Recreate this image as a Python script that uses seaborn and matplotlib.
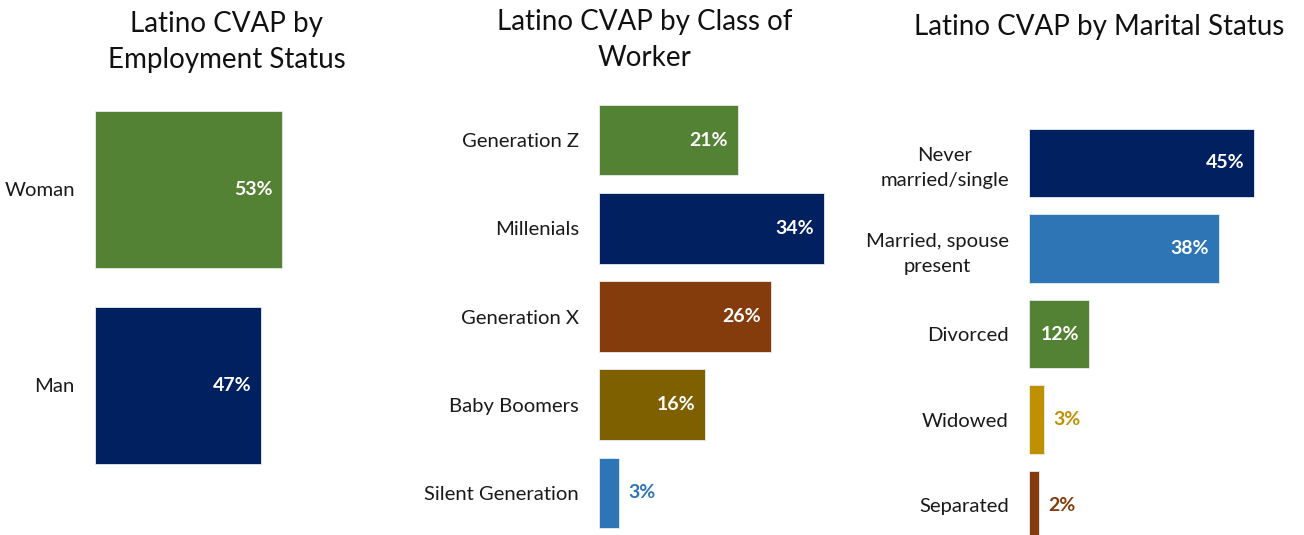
import matplotlib

matplotlib.use("Agg")
import matplotlib.pyplot as plt
import pandas as pd
import seaborn as sns

# --- data ---
emp_labels = ["Woman", "Man"]
emp_values = [53, 47]
emp_colors = ["#548235", "#002060"]

gen_labels = ["Generation Z", "Millenials", "Generation X", "Baby Boomers", "Silent Generation"]
gen_values = [21, 34, 26, 16, 3]
gen_colors = ["#548235", "#002060", "#843C0C", "#7F6000", "#2E75B6"]

mar_labels = ["Never\nmarried/single", "Married, spouse\npresent", "Divorced", "Widowed", "Separated"]
mar_values = [45, 38, 12, 3, 2]
mar_colors = ["#002060", "#2E75B6", "#548235", "#BF9000", "#843C0C"]

titles = ["Latino CVAP by\nEmployment Status", "Latino CVAP by Class of\nWorker",
          "Latino CVAP by Marital Status"]

sns.set_theme(style="white")
plt.rcParams["font.family"] = ["Lato", "DejaVu Sans"]

W, H = 1304, 535
fig = plt.figure(figsize=(W / 100, H / 100), dpi=100)


def px_axes(x0, top, bottom, width):
    # axes placed in pixel coordinates of the reference
    return fig.add_axes([x0 / W, (H - bottom) / H, width / W, (bottom - top) / H])


def panel(ax, labels, values, colors, xmax):
    df = pd.DataFrame({"cat": labels, "val": values})
    sns.barplot(data=df, x="val", y="cat", hue="cat", palette=dict(zip(labels, colors)),
                orient="h", width=0.8, legend=False, ax=ax, saturation=1,
                edgecolor="#e8ecef", linewidth=0.6)
    ax.set_xlim(0, xmax)
    ax.set_xlabel("")
    ax.set_ylabel("")
    ax.set_xticks([])
    sns.despine(ax=ax, left=True, bottom=True)
    ax.tick_params(axis="y", length=0, pad=14.5, labelsize=14.6, labelcolor="#1a1a1a")
    for t in ax.get_yticklabels():
        t.set_multialignment("center")
        t.set_linespacing(1.55)
    for patch, v, c in zip(ax.patches, values, colors):
        y = patch.get_y() + patch.get_height() / 2
        if v >= 10:
            ax.annotate(f"{v}%", (v, y), xytext=(-7, 0), textcoords="offset points",
                        ha="right", va="center", color="white", fontsize=14, fontweight="bold")
        else:
            ax.annotate(f"{v}%", (v, y), xytext=(7, 0), textcoords="offset points",
                        ha="left", va="center", color=c, fontsize=14, fontweight="bold")


ax1 = px_axes(95, 91.5, 483.5, 212)
panel(ax1, emp_labels, emp_values, emp_colors, 60)

ax2 = px_axes(599, 96, 537, 238)
panel(ax2, gen_labels, gen_values, gen_colors, 36)

ax3 = px_axes(1029, 120, 548, 250)
panel(ax3, mar_labels, mar_values, mar_colors, 50)

fig.text(226.5 / W, 1 - 42 / H, titles[0], ha="center", va="center", fontsize=20,
         linespacing=1.5, color="#111111")
fig.text(644.5 / W, 1 - 40 / H, titles[1], ha="center", va="center", fontsize=20,
         linespacing=1.5, color="#111111")
fig.text(1099 / W, 1 - 27 / H, titles[2], ha="center", va="center", fontsize=20,
         color="#111111")

fig.savefig("out.png", dpi=100)
